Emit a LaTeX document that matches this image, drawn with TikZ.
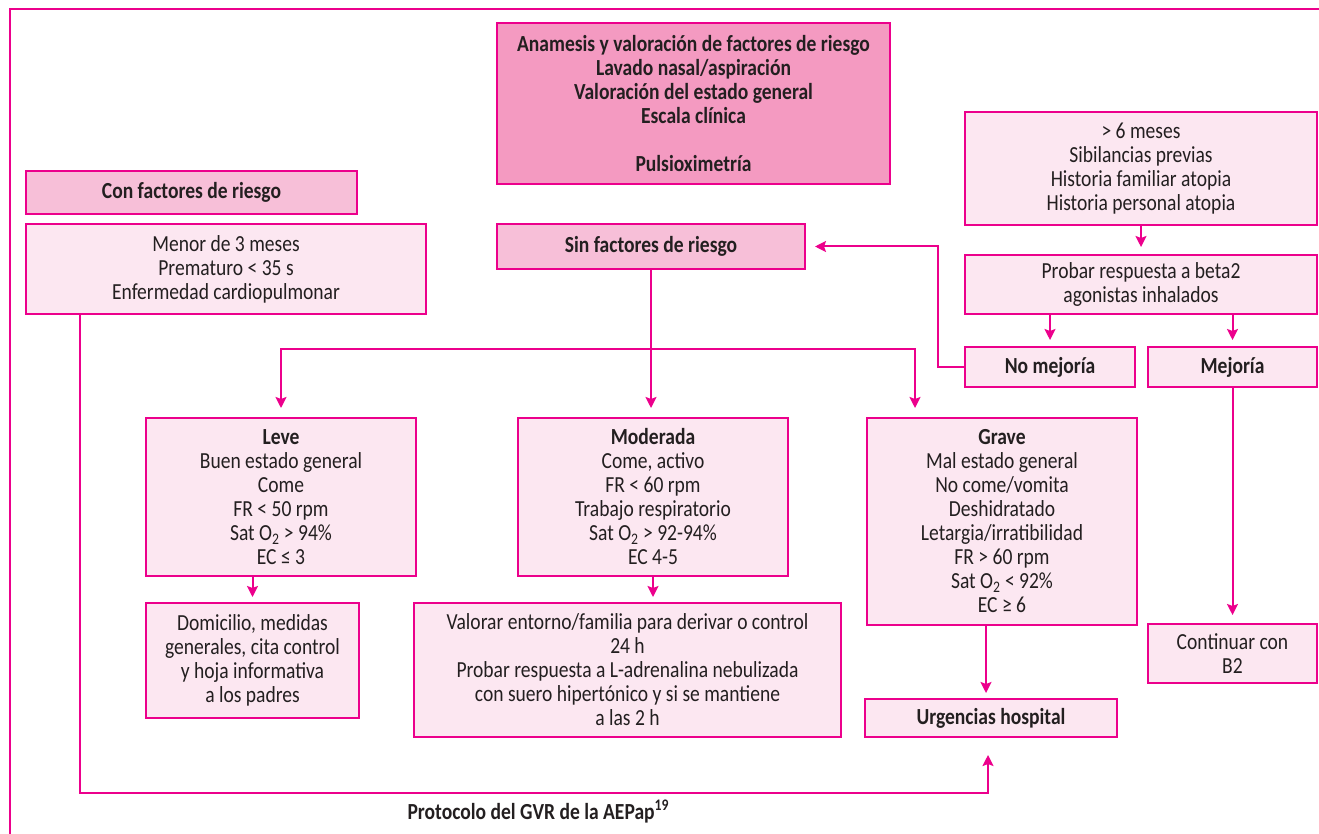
\documentclass[tikz,border=0pt]{standalone}
\usepackage{fontspec}
\setmainfont[FakeStretch=0.85]{Carlito}
\usetikzlibrary{arrows.meta,calc}
\definecolor{rosa}{HTML}{EC008C}
\definecolor{rosaA}{HTML}{F49AC1}
\definecolor{rosaB}{HTML}{F7BFD8}
\definecolor{rosaC}{HTML}{FCE7F1}
\definecolor{texto}{HTML}{231F20}
\newcommand\letra{\fontsize{23}{24}\selectfont}

\begin{document}
\begin{tikzpicture}[x=1pt,y=-1pt,text=texto]
\tikzstyle{caja}=[draw=rosa, line width=2pt, fill=rosaC, anchor=north west,
    inner sep=0pt, align=center, font=\letra]
\tikzstyle{cajaB}=[caja, fill=rosaB, font=\letra\bfseries]
\tikzstyle{flecha}=[draw=rosa, line width=2pt, -{Stealth[length=11pt,width=11pt,inset=2pt]}]
\useasboundingbox (0,0) rectangle (1319,834);
\draw[rosa, line width=2pt] (10,834) -- (10,9) -- (1319,9);

    \node (anam) [cajaB, fill=rosaA, minimum width=393pt, minimum height=161pt] at (496,22)
        {Anamesis y valoración de factores de riesgo\\Lavado nasal/aspiración\\Valoración del estado general\\Escala clínica\\[24pt]Pulsioximetría};
    \node (con) [cajaB, minimum width=331pt, minimum height=43pt] at (25,170) {Con factores de riesgo};
    \node (menor) [caja, minimum width=400pt, minimum height=90pt] at (25,223)
        {Menor de 3 meses\\Prematuro < 35 s\\Enfermedad cardiopulmonar};
    \node (sin) [cajaB, minimum width=308pt, minimum height=45pt] at (496,223) {Sin factores de riesgo};
    \node (six) [caja, minimum width=352pt, minimum height=113pt] at (964,111)
        {> 6 meses\\Sibilancias previas\\Historia familiar atopia\\Historia personal atopia};
    \node (prob) [caja, minimum width=352pt, minimum height=59pt] at (964,254)
        {Probar respuesta a beta2\\agonistas inhalados};
    \node (nomej) [caja, font=\letra\bfseries, minimum width=170pt, minimum height=40pt] at (964,346) {No mejoría};
    \node (mej) [caja, font=\letra\bfseries, minimum width=169pt, minimum height=40pt] at (1147,346) {Mejoría};
    \node (leve) [caja, minimum width=270pt, minimum height=158pt] at (145,417)
        {{\bfseries Leve}\\Buen estado general\\Come\\FR < 50 rpm\\Sat O\textsubscript{2} > 94\%\\EC ≤ 3};
    \node (mod) [caja, minimum width=270pt, minimum height=158pt] at (517,417)
        {{\bfseries Moderada}\\Come, activo\\FR < 60 rpm\\Trabajo respiratorio\\Sat O\textsubscript{2} > 92-94\%\\EC 4-5};
    \node (grave) [caja, minimum width=270pt, minimum height=207pt] at (866,417)
        {{\bfseries Grave}\\Mal estado general\\No come/vomita\\Deshidratado\\Letargia/irratibilidad\\FR > 60 rpm\\Sat O\textsubscript{2} < 92\%\\EC ≥ 6};
    \node (dom) [caja, minimum width=213pt, minimum height=115pt] at (145,602)
        {Domicilio, medidas\\generales, cita control\\y hoja informativa\\a los padres};
    \node (val) [caja, minimum width=427pt, minimum height=134pt] at (413,602)
        {Valorar entorno/familia para derivar o control\\24 h\\Probar respuesta a L-adrenalina nebulizada\\con suero hipertónico y si se mantiene\\a las 2 h};
    \node (urg) [caja, font=\letra\bfseries, minimum width=252pt, minimum height=38pt] at (864,698) {Urgencias hospital};
    \node (cont) [caja, minimum width=169pt, minimum height=59pt] at (1147,623) {Continuar con\\B2};
    \node (pie) [anchor=west, font=\letra\bfseries] at (404,812) {Protocolo del GVR de la AEPap\textsuperscript{19}};

    \draw[flecha, shorten >=9pt] (sin.south) -- (sin.south |- mod.north);
    \draw[flecha, shorten >=9pt] ([yshift=-79pt]sin.south) -| (leve.north);
    \draw[flecha, shorten >=9pt] ([yshift=-79pt]sin.south) -| ([xshift=49pt]grave.north west);
    \draw[flecha, shorten >=5pt] (leve.south -| dom.north) -- (dom.north);
    \draw[flecha, shorten >=5pt] (mod.south) -- (mod.south |- val.north);
    \draw[flecha, shorten >=5pt] ([xshift=-16pt]grave.south) -- ([xshift=-16pt]grave.south |- urg.north);
    \draw[flecha, shorten >=17pt] ([xshift=55pt]menor.south west) |- ([xshift=-3pt,yshift=-55pt]urg.south) -- ([xshift=-3pt]urg.south);
    \draw[flecha, shorten >=7pt] (six.south) -- (prob.north);
    \draw[flecha, shorten >=6pt] (prob.south -| nomej.north) -- (nomej.north);
    \draw[flecha, shorten >=6pt] (prob.south -| mej.north) -- (mej.north);
    \draw[flecha, shorten >=8pt] (mej.south) -- (cont.north);
    \draw[flecha, shorten >=9pt] (nomej.west) -- ++(-26,0) |- (sin.east);
\end{tikzpicture}
\end{document}
